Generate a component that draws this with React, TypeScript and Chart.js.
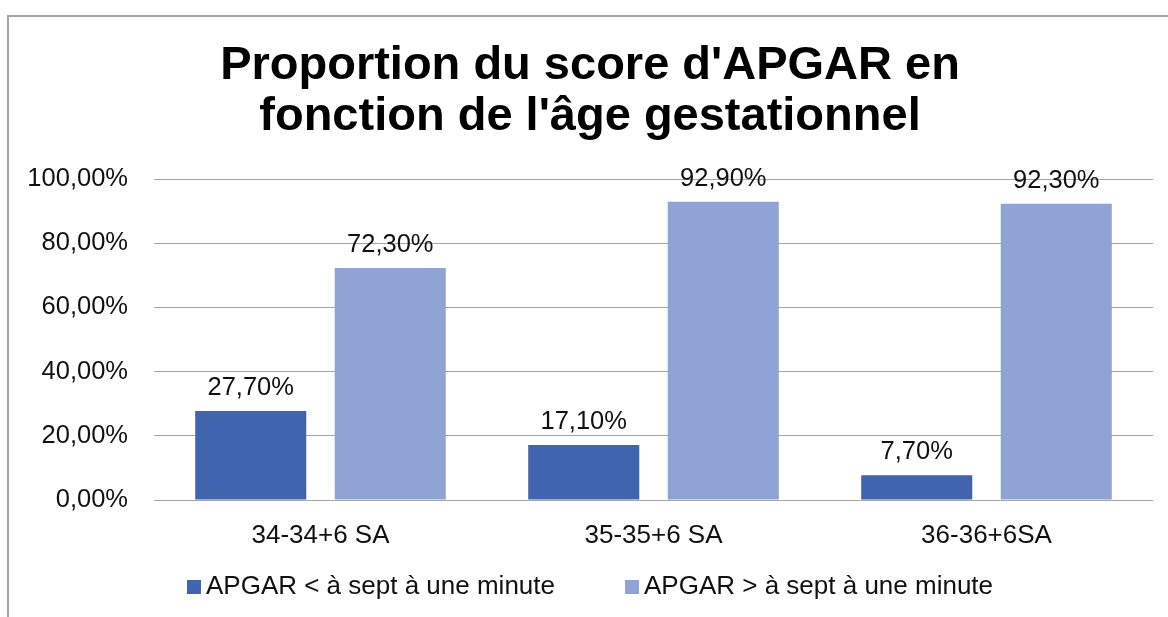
import React, { useEffect, useRef } from "react";
import { Chart, registerables } from "chart.js";

Chart.register(...registerables);

const TITLE_LINES = ["Proportion du score d'APGAR en", "fonction de l'âge gestationnel"];
const CATEGORIES = ["34-34+6 SA", "35-35+6 SA", "36-36+6SA"];
const SERIES_LOW_LABEL = "APGAR < à sept à une minute";
const SERIES_HIGH_LABEL = "APGAR > à sept à une minute";
const SERIES_LOW = [27.7, 17.1, 7.7];
const SERIES_HIGH = [72.3, 92.9, 92.3];
const COLOR_LOW = "#4064AD";
const COLOR_HIGH = "#8FA3D4";
const FONT = 'Arial, "Liberation Sans", sans-serif';

const fmt = (v: number) => v.toFixed(2).replace(".", ",") + "%";

const dataLabelPlugin = {
  id: "dataLabels",
  afterDatasetsDraw(chart: any) {
    const ctx = chart.ctx;
    ctx.save();
    ctx.font = `25.5px ${FONT}`;
    ctx.fillStyle = "#111";
    ctx.textAlign = "center";
    ctx.textBaseline = "alphabetic";
    chart.data.datasets.forEach((ds: any, i: number) => {
      const meta = chart.getDatasetMeta(i);
      meta.data.forEach((bar: any, j: number) => {
        ctx.fillText(fmt(ds.data[j]), bar.x, bar.y - 16);
      });
    });
    ctx.restore();
  },
};

const legendPlugin = {
  id: "customLegend",
  afterDraw(chart: any) {
    const ctx = chart.ctx;
    ctx.save();
    ctx.font = `26px ${FONT}`;
    ctx.textBaseline = "middle";
    ctx.textAlign = "left";
    const box = 14;
    const gap = 5;
    const itemGap = 70;
    const items = chart.data.datasets.map((ds: any) => ({
      label: ds.label,
      color: ds.backgroundColor,
      w: box + gap + ctx.measureText(ds.label).width,
    }));
    const total = items.reduce((s: number, it: any) => s + it.w, 0) + itemGap * (items.length - 1);
    let x = 590 - total / 2;
    const y = 587;
    items.forEach((it: any) => {
      ctx.fillStyle = it.color;
      ctx.fillRect(x, y - box / 2, box, box);
      ctx.fillStyle = "#111";
      ctx.fillText(it.label, x + box + gap, y);
      x += it.w + itemGap;
    });
    ctx.restore();
  },
};

export default function App() {
  const ref = useRef<HTMLCanvasElement | null>(null);

  useEffect(() => {
    if (!ref.current) return;
    const chart = new Chart(ref.current, {
      type: "bar",
      data: {
        labels: CATEGORIES,
        datasets: [
          {
            label: SERIES_LOW_LABEL,
            data: SERIES_LOW,
            backgroundColor: COLOR_LOW,
            categoryPercentage: 0.838,
            barPercentage: 0.796,
          },
          {
            label: SERIES_HIGH_LABEL,
            data: SERIES_HIGH,
            backgroundColor: COLOR_HIGH,
            categoryPercentage: 0.838,
            barPercentage: 0.796,
          },
        ],
      },
      options: {
        responsive: false,
        animation: false,
        layout: { padding: { left: 27, right: 15, top: 0, bottom: 0 } },
        plugins: {
          legend: { display: false },
          tooltip: { enabled: false },
          title: {
            display: true,
            text: TITLE_LINES,
            color: "#000",
            font: { family: FONT, size: 47, weight: "bold", lineHeight: 1.08 },
            padding: { top: 41, bottom: 36.5 },
          },
        },
        scales: {
          x: {
            grid: { display: false },
            border: { display: false },
            ticks: {
              color: "#111",
              font: { family: FONT, size: 26 },
              padding: 12,
              maxRotation: 0,
            },
            afterFit: (scale: any) => {
              scale.height = 117;
            },
          },
          y: {
            min: 0,
            max: 100,
            border: { display: false },
            grid: { color: "#a6a6a6", lineWidth: 1, drawTicks: false },
            ticks: {
              stepSize: 20,
              color: "#111",
              font: { family: FONT, size: 25.5 },
              padding: 26,
              callback: (v: any) => fmt(Number(v)),
            },
            afterFit: (scale: any) => {
              scale.width = 127;
            },
          },
        },
      },
      plugins: [dataLabelPlugin, legendPlugin],
    });
    return () => chart.destroy();
  }, []);

  return (
    <div
      style={{
        position: "fixed",
        left: 0,
        top: 0,
        width: 1168,
        height: 617,
        overflow: "hidden",
        background: "#fff",
      }}
    >
      <div
        style={{
          position: "absolute",
          left: 7,
          top: 15,
          width: 1300,
          height: 700,
          borderLeft: "2px solid #a6a6a6",
          borderTop: "2px solid #a6a6a6",
        }}
      />
      <canvas
        ref={ref}
        width={1168}
        height={617}
        style={{ position: "absolute", left: 0, top: 0, width: 1168, height: 617 }}
      />
    </div>
  );
}
